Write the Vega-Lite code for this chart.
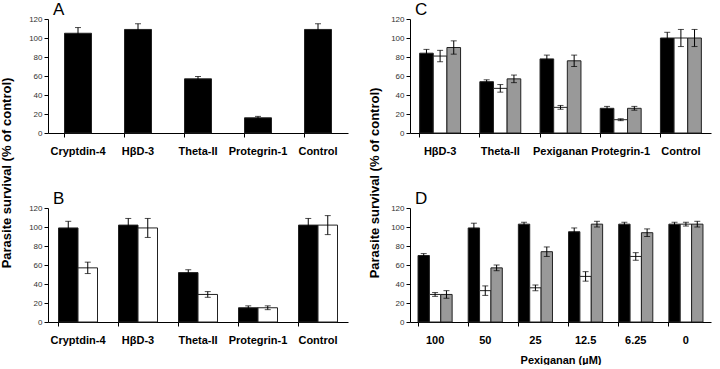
{
  "$schema": "https://vega.github.io/schema/vega-lite/v6.json",
  "padding": {"left": 0, "top": 1, "right": 2, "bottom": 0},
  "background": "white",
  "config": {
    "view": {"stroke": null},
    "font": "Liberation Sans",
    "axis": {"grid": false, "domainColor": "black", "tickColor": "black", "domainWidth": 1, "tickWidth": 1},
    "axisX": {"bandPosition": 0, "tickSize": 4, "labelAngle": 0, "labelFont": "Liberation Sans", "labelFontWeight": "bold", "labelFontSize": 11, "labelColor": "black", "labelPadding": 8, "titleFont": "Liberation Sans", "titleFontWeight": "bold", "titleFontSize": 11, "titleColor": "black", "titlePadding": 9},
    "axisY": {"tickSize": 4, "labelFontSize": 8, "labelColor": "#333", "labelPadding": 2, "labelOverlap": false},
    "title": {"font": "Liberation Sans", "color": "black"}
  },
  "datasets": {
    "d": [
      {"panel": "A", "group": "Cryptdin-4", "series": "s1", "value": 105, "lo": 99, "hi": 111},
      {"panel": "A", "group": "HβD-3", "series": "s1", "value": 109, "lo": 103, "hi": 115},
      {"panel": "A", "group": "Theta-II", "series": "s1", "value": 57, "lo": 54.5, "hi": 59.5},
      {"panel": "A", "group": "Protegrin-1", "series": "s1", "value": 16, "lo": 14.5, "hi": 17.5},
      {"panel": "A", "group": "Control", "series": "s1", "value": 109, "lo": 103, "hi": 115},

      {"panel": "B", "group": "Cryptdin-4", "series": "s1", "value": 99, "lo": 92, "hi": 106},
      {"panel": "B", "group": "Cryptdin-4", "series": "s2", "value": 57, "lo": 51, "hi": 63},
      {"panel": "B", "group": "HβD-3", "series": "s1", "value": 102, "lo": 95, "hi": 109},
      {"panel": "B", "group": "HβD-3", "series": "s2", "value": 99, "lo": 89, "hi": 109},
      {"panel": "B", "group": "Theta-II", "series": "s1", "value": 52, "lo": 49, "hi": 55},
      {"panel": "B", "group": "Theta-II", "series": "s2", "value": 29, "lo": 26, "hi": 32},
      {"panel": "B", "group": "Protegrin-1", "series": "s1", "value": 15, "lo": 13, "hi": 17},
      {"panel": "B", "group": "Protegrin-1", "series": "s2", "value": 15, "lo": 13, "hi": 17},
      {"panel": "B", "group": "Control", "series": "s1", "value": 102, "lo": 95, "hi": 109},
      {"panel": "B", "group": "Control", "series": "s2", "value": 102, "lo": 92, "hi": 112},

      {"panel": "C", "group": "HβD-3", "series": "s1", "value": 84, "lo": 80, "hi": 88},
      {"panel": "C", "group": "HβD-3", "series": "s2", "value": 81, "lo": 75, "hi": 87},
      {"panel": "C", "group": "HβD-3", "series": "s3", "value": 90, "lo": 83, "hi": 97},
      {"panel": "C", "group": "Theta-II", "series": "s1", "value": 54, "lo": 52, "hi": 56},
      {"panel": "C", "group": "Theta-II", "series": "s2", "value": 47, "lo": 43, "hi": 51},
      {"panel": "C", "group": "Theta-II", "series": "s3", "value": 57, "lo": 53, "hi": 61},
      {"panel": "C", "group": "Pexiganan", "series": "s1", "value": 78, "lo": 74, "hi": 82},
      {"panel": "C", "group": "Pexiganan", "series": "s2", "value": 27, "lo": 25, "hi": 29},
      {"panel": "C", "group": "Pexiganan", "series": "s3", "value": 76, "lo": 70, "hi": 82},
      {"panel": "C", "group": "Protegrin-1", "series": "s1", "value": 26, "lo": 24, "hi": 28},
      {"panel": "C", "group": "Protegrin-1", "series": "s2", "value": 14, "lo": 13, "hi": 15},
      {"panel": "C", "group": "Protegrin-1", "series": "s3", "value": 26, "lo": 24, "hi": 28},
      {"panel": "C", "group": "Control", "series": "s1", "value": 100, "lo": 94, "hi": 106},
      {"panel": "C", "group": "Control", "series": "s2", "value": 100, "lo": 91, "hi": 109},
      {"panel": "C", "group": "Control", "series": "s3", "value": 100, "lo": 91, "hi": 109},

      {"panel": "D", "group": "100", "series": "s1", "value": 70, "lo": 68, "hi": 72},
      {"panel": "D", "group": "100", "series": "s2", "value": 29, "lo": 27, "hi": 31},
      {"panel": "D", "group": "100", "series": "s3", "value": 29, "lo": 25, "hi": 33},
      {"panel": "D", "group": "50", "series": "s1", "value": 99, "lo": 94, "hi": 104},
      {"panel": "D", "group": "50", "series": "s2", "value": 33, "lo": 28, "hi": 38},
      {"panel": "D", "group": "50", "series": "s3", "value": 57, "lo": 54, "hi": 60},
      {"panel": "D", "group": "25", "series": "s1", "value": 103, "lo": 101, "hi": 105},
      {"panel": "D", "group": "25", "series": "s2", "value": 36, "lo": 33, "hi": 39},
      {"panel": "D", "group": "25", "series": "s3", "value": 74, "lo": 69, "hi": 79},
      {"panel": "D", "group": "12.5", "series": "s1", "value": 95, "lo": 91, "hi": 99},
      {"panel": "D", "group": "12.5", "series": "s2", "value": 48, "lo": 43, "hi": 53},
      {"panel": "D", "group": "12.5", "series": "s3", "value": 103, "lo": 100, "hi": 106},
      {"panel": "D", "group": "6.25", "series": "s1", "value": 103, "lo": 101, "hi": 105},
      {"panel": "D", "group": "6.25", "series": "s2", "value": 69, "lo": 65, "hi": 73},
      {"panel": "D", "group": "6.25", "series": "s3", "value": 94, "lo": 90, "hi": 98},
      {"panel": "D", "group": "0", "series": "s1", "value": 103, "lo": 101, "hi": 105},
      {"panel": "D", "group": "0", "series": "s2", "value": 103, "lo": 101, "hi": 105},
      {"panel": "D", "group": "0", "series": "s3", "value": 103, "lo": 100, "hi": 106}
    ]
  },
  "spacing": 20,
  "resolve": {"scale": {"xOffset": "independent", "x": "independent", "y": "independent"}},
  "hconcat": [
    {
      "title": {"text": "Parasite survival (% of control)", "orient": "left", "anchor": "middle", "fontSize": 13, "fontWeight": "bold", "offset": 15},
      "spacing": 34,
      "resolve": {"scale": {"xOffset": "independent", "x": "independent", "y": "independent"}},
      "vconcat": [
        {
          "width": 300, "height": 114,
          "title": {"text": "A", "anchor": "start", "frame": "group", "fontSize": 17, "fontWeight": "normal", "dx": 5, "offset": -4},
          "data": {"name": "d"},
          "transform": [{"filter": "datum.panel === 'A'"}],
          "encoding": {
            "x": {"field": "group", "type": "nominal", "title": null, "scale": {"domain": ["Cryptdin-4", "HβD-3", "Theta-II", "Protegrin-1", "Control"], "paddingInner": 0.55, "paddingOuter": 0.275}},
            "xOffset": {"field": "series", "type": "nominal", "scale": {"paddingInner": 0, "paddingOuter": 0}}
          },
          "layer": [
            {"mark": {"type": "bar", "stroke": "#222", "strokeWidth": 1}, "encoding": {"y": {"field": "value", "type": "quantitative", "title": null, "scale": {"domain": [0, 120]}, "axis": {"values": [0, 20, 40, 60, 80, 100, 120]}}, "fill": {"field": "series", "type": "nominal", "scale": {"domain": ["s1", "s2", "s3"], "range": ["#000000", "#ffffff", "#999999"]}, "legend": null}}},
            {"mark": {"type": "rule", "color": "black", "strokeWidth": 1}, "encoding": {"y": {"field": "lo", "type": "quantitative", "title": null, "axis": {"values": [0, 20, 40, 60, 80, 100, 120]}}, "y2": {"field": "hi"}}},
            {"mark": {"type": "tick", "color": "black", "size": 6, "thickness": 1}, "encoding": {"y": {"field": "hi", "type": "quantitative", "title": null, "axis": {"values": [0, 20, 40, 60, 80, 100, 120]}}}},
            {"mark": {"type": "tick", "color": "black", "size": 6, "thickness": 1}, "encoding": {"y": {"field": "lo", "type": "quantitative", "title": null, "axis": {"values": [0, 20, 40, 60, 80, 100, 120]}}}}
          ]
        },
        {
          "width": 300, "height": 114,
          "title": {"text": "B", "anchor": "start", "frame": "group", "fontSize": 17, "fontWeight": "normal", "dx": 5, "offset": -4},
          "data": {"name": "d"},
          "transform": [{"filter": "datum.panel === 'B'"}],
          "encoding": {
            "x": {"field": "group", "type": "nominal", "title": null, "scale": {"domain": ["Cryptdin-4", "HβD-3", "Theta-II", "Protegrin-1", "Control"], "paddingInner": 0.35, "paddingOuter": 0.175}},
            "xOffset": {"field": "series", "type": "nominal", "scale": {"paddingInner": 0, "paddingOuter": 0}}
          },
          "layer": [
            {"mark": {"type": "bar", "stroke": "#222", "strokeWidth": 1}, "encoding": {"y": {"field": "value", "type": "quantitative", "title": null, "scale": {"domain": [0, 120]}, "axis": {"values": [0, 20, 40, 60, 80, 100, 120]}}, "fill": {"field": "series", "type": "nominal", "scale": {"domain": ["s1", "s2", "s3"], "range": ["#000000", "#ffffff", "#999999"]}, "legend": null}}},
            {"mark": {"type": "rule", "color": "black", "strokeWidth": 1}, "encoding": {"y": {"field": "lo", "type": "quantitative", "title": null, "axis": {"values": [0, 20, 40, 60, 80, 100, 120]}}, "y2": {"field": "hi"}}},
            {"mark": {"type": "tick", "color": "black", "size": 6, "thickness": 1}, "encoding": {"y": {"field": "hi", "type": "quantitative", "title": null, "axis": {"values": [0, 20, 40, 60, 80, 100, 120]}}}},
            {"mark": {"type": "tick", "color": "black", "size": 6, "thickness": 1}, "encoding": {"y": {"field": "lo", "type": "quantitative", "title": null, "axis": {"values": [0, 20, 40, 60, 80, 100, 120]}}}}
          ]
        }
      ]
    },
    {
      "title": {"text": "Parasite survival (% of control)", "orient": "left", "anchor": "middle", "fontSize": 13, "fontWeight": "bold", "offset": 9},
      "spacing": 34,
      "resolve": {"scale": {"xOffset": "independent", "x": "independent", "y": "independent"}},
      "vconcat": [
        {
          "width": 301, "height": 114,
          "title": {"text": "C", "anchor": "start", "frame": "group", "fontSize": 17, "fontWeight": "normal", "dx": 5, "offset": -4},
          "data": {"name": "d"},
          "transform": [{"filter": "datum.panel === 'C'"}],
          "encoding": {
            "x": {"field": "group", "type": "nominal", "title": null, "scale": {"domain": ["HβD-3", "Theta-II", "Pexiganan", "Protegrin-1", "Control"], "paddingInner": 0.32, "paddingOuter": 0.16}},
            "xOffset": {"field": "series", "type": "nominal", "scale": {"paddingInner": 0, "paddingOuter": 0}}
          },
          "layer": [
            {"mark": {"type": "bar", "stroke": "#222", "strokeWidth": 1}, "encoding": {"y": {"field": "value", "type": "quantitative", "title": null, "scale": {"domain": [0, 120]}, "axis": {"values": [0, 20, 40, 60, 80, 100, 120]}}, "fill": {"field": "series", "type": "nominal", "scale": {"domain": ["s1", "s2", "s3"], "range": ["#000000", "#ffffff", "#999999"]}, "legend": null}}},
            {"mark": {"type": "rule", "color": "black", "strokeWidth": 1}, "encoding": {"y": {"field": "lo", "type": "quantitative", "title": null, "axis": {"values": [0, 20, 40, 60, 80, 100, 120]}}, "y2": {"field": "hi"}}},
            {"mark": {"type": "tick", "color": "black", "size": 6, "thickness": 1}, "encoding": {"y": {"field": "hi", "type": "quantitative", "title": null, "axis": {"values": [0, 20, 40, 60, 80, 100, 120]}}}},
            {"mark": {"type": "tick", "color": "black", "size": 6, "thickness": 1}, "encoding": {"y": {"field": "lo", "type": "quantitative", "title": null, "axis": {"values": [0, 20, 40, 60, 80, 100, 120]}}}}
          ]
        },
        {
          "width": 301, "height": 114,
          "title": {"text": "D", "anchor": "start", "frame": "group", "fontSize": 17, "fontWeight": "normal", "dx": 5, "offset": -4},
          "data": {"name": "d"},
          "transform": [{"filter": "datum.panel === 'D'"}],
          "encoding": {
            "x": {"field": "group", "type": "nominal", "title": "Pexiganan (µM)", "scale": {"domain": ["100", "50", "25", "12.5", "6.25", "0"], "paddingInner": 0.32, "paddingOuter": 0.16}},
            "xOffset": {"field": "series", "type": "nominal", "scale": {"paddingInner": 0, "paddingOuter": 0}}
          },
          "layer": [
            {"mark": {"type": "bar", "stroke": "#222", "strokeWidth": 1}, "encoding": {"y": {"field": "value", "type": "quantitative", "title": null, "scale": {"domain": [0, 120]}, "axis": {"values": [0, 20, 40, 60, 80, 100, 120]}}, "fill": {"field": "series", "type": "nominal", "scale": {"domain": ["s1", "s2", "s3"], "range": ["#000000", "#ffffff", "#999999"]}, "legend": null}}},
            {"mark": {"type": "rule", "color": "black", "strokeWidth": 1}, "encoding": {"y": {"field": "lo", "type": "quantitative", "title": null, "axis": {"values": [0, 20, 40, 60, 80, 100, 120]}}, "y2": {"field": "hi"}}},
            {"mark": {"type": "tick", "color": "black", "size": 6, "thickness": 1}, "encoding": {"y": {"field": "hi", "type": "quantitative", "title": null, "axis": {"values": [0, 20, 40, 60, 80, 100, 120]}}}},
            {"mark": {"type": "tick", "color": "black", "size": 6, "thickness": 1}, "encoding": {"y": {"field": "lo", "type": "quantitative", "title": null, "axis": {"values": [0, 20, 40, 60, 80, 100, 120]}}}}
          ]
        }
      ]
    }
  ]
}
